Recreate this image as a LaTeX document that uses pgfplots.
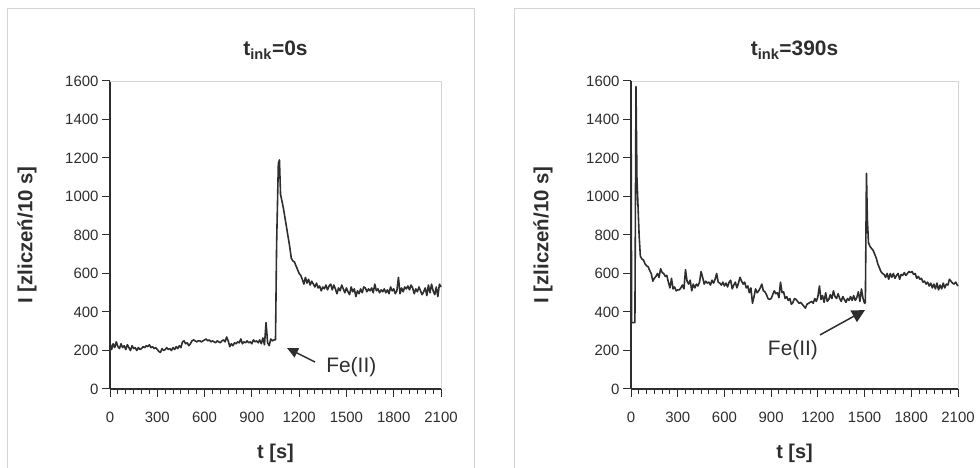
\documentclass[border=0pt]{standalone}
\usepackage{fontspec}
\setmainfont{Liberation Sans}
\usepackage{pgfplots}
\pgfplotsset{compat=1.18}
\usetikzlibrary{arrows.meta}

\definecolor{trace}{HTML}{2E2E2E}
\definecolor{framegray}{HTML}{D4D4D4}

\pgfplotstableread{
t I
0 240
10 205
20 235
30 215
40 245
50 220
60 210
70 235
80 215
90 225
100 205
110 230
120 215
130 200
140 225
150 210
160 215
170 200
180 215
190 205
200 210
210 220
220 215
230 225
240 220
250 230
260 215
270 220
280 210
290 215
300 205
310 195
320 190
330 210
340 200
350 205
360 215
370 205
380 210
390 200
400 215
410 205
420 220
430 210
440 225
450 215
460 245
470 250
480 235
490 240
500 225
510 235
520 250
530 255
540 250
550 245
560 250
570 250
580 245
590 250
600 255
610 260
620 250
630 255
640 245
650 250
660 245
670 240
680 250
690 245
700 240
710 250
720 255
730 245
740 270
750 250
760 220
770 235
780 225
790 240
800 235
810 245
820 240
830 260
840 235
850 245
860 240
870 250
880 240
890 245
900 235
910 255
920 245
930 250
940 240
950 255
960 235
970 265
980 230
990 345
1000 240
1010 225
1020 260
1030 250
1040 255
1050 255
1057 750
1068 1170
1075 1190
1082 1010
1090 980
1100 940
1110 890
1120 840
1130 790
1140 740
1150 680
1160 665
1170 660
1180 640
1190 620
1200 600
1210 590
1220 570
1230 545
1240 580
1250 550
1260 570
1270 540
1280 560
1290 545
1300 530
1310 550
1320 525
1330 535
1340 510
1350 530
1360 520
1370 540
1380 515
1390 535
1400 545
1410 515
1420 540
1430 520
1440 495
1450 525
1460 510
1470 540
1480 520
1490 500
1500 525
1510 505
1520 490
1530 530
1540 505
1550 520
1560 480
1570 510
1580 495
1590 520
1600 500
1610 530
1620 525
1630 505
1640 520
1650 510
1660 525
1670 500
1680 545
1690 510
1700 520
1710 500
1720 515
1730 505
1740 520
1750 500
1760 515
1770 495
1780 530
1790 510
1800 520
1810 495
1820 510
1830 580
1840 495
1850 525
1860 505
1870 530
1880 520
1890 535
1900 515
1910 540
1920 525
1930 495
1940 520
1950 505
1960 530
1970 510
1980 490
1990 505
2000 525
2010 485
2020 540
2030 500
2040 545
2050 510
2060 490
2070 530
2080 480
2090 545
2100 530
}\tinkzero

\pgfplotstableread{
t I
0 1600
4 345
25 345
32 1570
38 1100
45 950
52 800
60 690
70 675
80 670
90 650
100 640
110 635
120 615
130 600
140 560
150 575
160 585
170 600
180 580
190 625
200 605
210 600
220 585
230 590
240 555
250 525
260 575
270 520
280 530
290 510
300 515
310 515
320 525
330 540
340 520
350 620
360 560
370 545
380 565
390 510
400 545
410 525
420 545
430 535
440 555
450 610
460 580
470 545
480 560
490 550
500 555
510 540
520 565
530 550
540 570
550 600
560 555
570 550
580 540
590 555
600 535
610 550
620 530
630 555
640 565
650 520
660 540
670 555
680 525
690 550
700 580
710 560
720 545
730 555
740 525
750 535
760 500
770 525
780 445
790 480
800 520
810 500
820 510
830 525
840 545
850 510
860 505
870 490
880 470
890 465
900 470
910 490
920 510
930 495
940 500
950 475
960 555
970 500
980 505
990 470
1000 480
1010 460
1020 470
1030 440
1040 450
1050 470
1060 465
1070 455
1080 445
1090 450
1100 440
1110 430
1120 420
1130 440
1140 445
1150 450
1160 455
1170 445
1180 470
1190 455
1200 480
1210 535
1220 465
1230 485
1240 450
1250 500
1260 455
1270 465
1280 490
1290 470
1300 510
1310 480
1320 470
1330 495
1340 470
1350 455
1360 480
1370 465
1380 450
1390 470
1400 460
1410 480
1420 460
1430 485
1440 460
1450 475
1460 505
1470 455
1480 520
1490 470
1500 445
1505 450
1512 1120
1518 880
1525 760
1535 740
1545 730
1555 720
1565 700
1575 680
1585 650
1595 630
1605 610
1615 600
1625 595
1635 580
1645 600
1655 570
1665 600
1675 580
1685 600
1695 575
1705 590
1715 600
1725 570
1735 595
1745 590
1755 605
1765 590
1775 600
1785 610
1795 605
1805 610
1815 595
1825 600
1835 575
1845 585
1855 570
1865 575
1875 555
1885 560
1895 545
1905 555
1915 535
1925 550
1935 525
1945 545
1955 520
1965 550
1975 515
1985 540
1995 520
2005 550
2015 525
2025 545
2035 540
2045 570
2055 560
2065 550
2075 545
2085 555
2095 540
2100 535
}\tinkthreeninety

\pgfplotsset{
  panel/.style={
    scale only axis,
    height=308bp,
    anchor=south west,
    xmin=0, xmax=2100, ymin=0, ymax=1600,
    xtick={0,300,...,2100}, ytick={0,200,...,1600},
    minor x tick num=5,
    tick align=outside,
    major tick length=8bp, minor tick length=5bp,
    axis x line*=bottom, axis y line*=left,
    axis line style={trace, line width=1.1bp},
    every tick/.style={trace, line width=1bp},
    clip=false,
    /pgf/number format/1000 sep={},
    /pgf/number format/assume math mode=true,
    ticklabel style={font=\fontsize{15}{18}\selectfont, text=trace},
    x tick label style={yshift=-12bp},
    every axis title/.style={at={(axis description cs:0.5,1)}, anchor=center, yshift=31bp,
      font=\bfseries\fontsize{21}{24}\selectfont, text=trace},
    every axis x label/.style={at={(axis description cs:0.5,0)}, anchor=center, yshift=-64bp,
      font=\bfseries\fontsize{20}{23}\selectfont, text=trace},
    every axis y label/.style={anchor=center, rotate=90,
      font=\bfseries\fontsize{20.5}{23}\selectfont, text=trace},
    xlabel={t [s]},
    ylabel={I [zliczeń/10 s]},
  },
  trace line/.style={trace, line width=1.6bp, no marks, line join=round},
}

\begin{document}
\begin{tikzpicture}[x=1bp,y=1bp]
\useasboundingbox (0,0) rectangle (980,468);
% panel frames
\draw[framegray, line width=0.8bp] (7,-5) -- (7,460) -- (474,460) -- (474,-5);
\draw[framegray, line width=0.8bp] (514,-5) -- (514,460) -- (990,460);

% left panel
\begin{axis}[panel, at={(110bp,79bp)}, width=331bp,
  title={t\textsubscript{ink}=0s},
  y label style={at={(axis description cs:-0.251,0.5)}}]
\draw[framegray, line width=0.8bp] (rel axis cs:0,1) -- (rel axis cs:1,1) -- (rel axis cs:1,0);
\addplot[trace line] table[x=t, y=I] {\tinkzero};
\draw[trace, line width=1.5bp, -{Triangle[length=11bp, width=10bp]}] (axis cs:1301,140) -- (axis cs:1123,213);
\node[anchor=west, text=trace, font=\fontsize{21}{24}\selectfont] at (axis cs:1350,114) {Fe(II)};
\end{axis}

% right panel
\begin{axis}[panel, at={(631bp,79bp)}, width=327bp,
  title={t\textsubscript{ink}=390s},
  y label style={at={(axis description cs:-0.269,0.5)}}]
\draw[framegray, line width=0.8bp] (rel axis cs:0,1) -- (rel axis cs:1,1) -- (rel axis cs:1,0);
\addplot[trace line] table[x=t, y=I] {\tinkthreeninety};
\draw[trace, line width=1.5bp, -{Triangle[length=13bp, width=13bp]}] (axis cs:1214,281) -- (axis cs:1503,410);
\node[text=trace, font=\fontsize{21}{24}\selectfont] at (axis cs:1040,203) {Fe(II)};
\end{axis}
\end{tikzpicture}
\end{document}
